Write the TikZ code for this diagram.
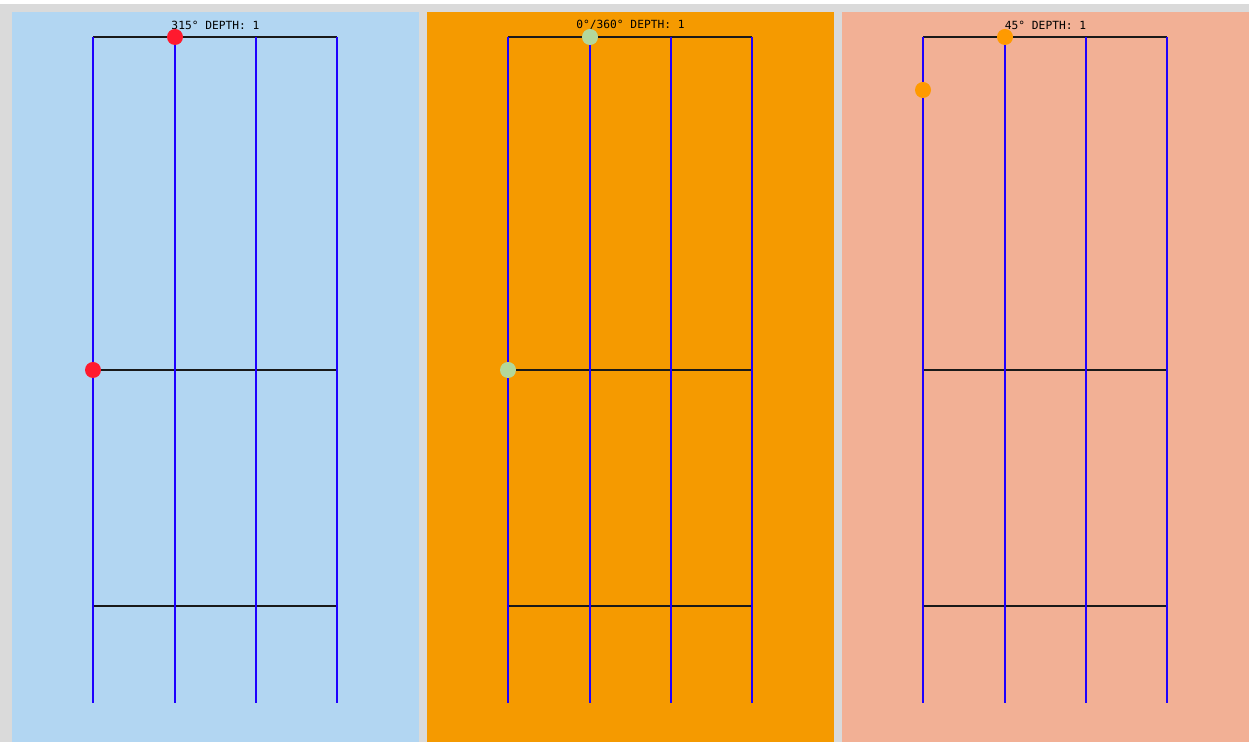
\documentclass[tikz,border=0pt]{standalone}
\usepackage{fontspec}
\newfontfamily\gridmono{DejaVu Sans Mono}
\usepackage{xcolor}
\usepackage{tikz}
\definecolor{frame}  {HTML}{DADADA}
\definecolor{sky}    {HTML}{B2D6F2}
\definecolor{amber}  {HTML}{F59A00}
\definecolor{salmon} {HTML}{F2B095}
\definecolor{rail}   {HTML}{1E00FF}
\definecolor{pinred} {HTML}{FF1A2E}
\definecolor{pingreen}{HTML}{B3D89B}
\definecolor{pinorange}{HTML}{FF9A00}

\begin{document}
\begin{tikzpicture}[
  x=0.02cm, y=-0.02cm,
  % one pixel of the screen is 0.02 cm, y runs downwards
  rung/.style={line width=1.4pt, draw=black!90},
  rail/.style={line width=1.4pt, draw=rail},
  pin/.style={circle, inner sep=0pt, minimum size=16*0.02cm},
  heading/.style={font=\gridmono\fontsize{6.4}{7}\selectfont, inner sep=0pt}
]

\def\T{37}    % top rung
\def\M{370}   % middle rung
\def\B{606}   % bottom rung
\def\E{703}   % foot of the rails

% --- page and margin ----------------------------------------------------------
\fill[white] (0,0) rectangle (1249,742);
\fill[frame] (0,4) rectangle (1249,742);
\useasboundingbox (0,0) rectangle (1249,742);

% --- the three panels, left to right ------------------------------------------
\foreach \ox/\bg/\dot/\lbl/\px/\py [count=\i] in {
    0/sky/pinred/{315° DEPTH: 1}/93/370,
  415/amber/pingreen/{0°/360° DEPTH: 1}/93/370,
  830/salmon/pinorange/{45° DEPTH: 1}/93/90}
{
  \fill[\bg] (\ox+12,12) rectangle (\ox+419,742);
  \node[heading] (head\i) at (\ox+215.5,25) {\lbl};

  % rungs first, the rails sit on top of them
  \draw[rung] (\ox+93,\T) -- (\ox+337,\T);
  \draw[rung] (\ox+93,\M) -- (\ox+337,\M);
  \draw[rung] (\ox+93,\B) -- (\ox+337,\B);
  \foreach \rx in {93,175,256,337}
    \draw[rail] (\ox+\rx,\T) -- (\ox+\rx,\E);

  % --- the two markers ---
  \node[pin, fill=\dot] (top\i) at (\ox+175,\T) {};
  \node[pin, fill=\dot] (side\i) at (\ox+\px,\py) {};
}

\end{tikzpicture}
\end{document}
